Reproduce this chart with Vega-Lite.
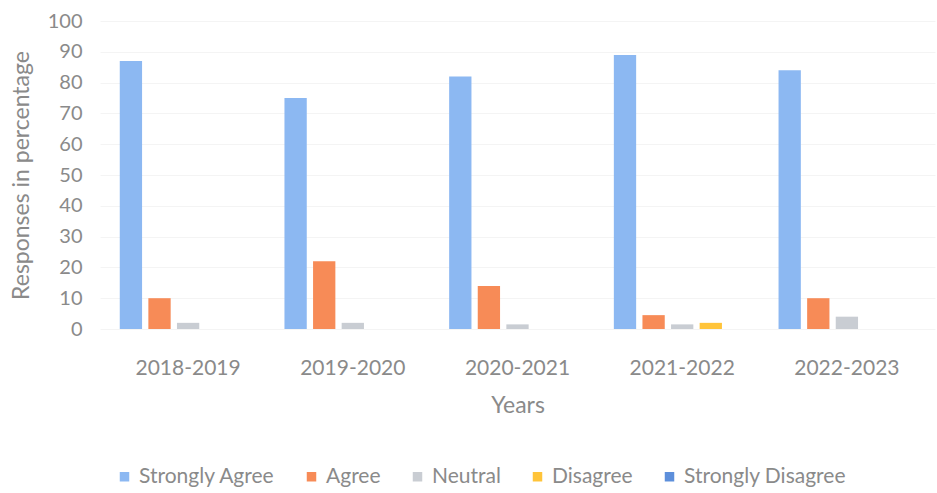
{
  "$schema": "https://vega.github.io/schema/vega-lite/v6.json",
  "autosize": {"type": "none"},
  "width": 835,
  "height": 308,
  "padding": {"left": 100, "top": 21, "right": 2, "bottom": 164},
  "background": "#ffffff",
  "config": {
    "font": "Lato",
    "view": {"stroke": null},
    "axis": {"labelColor": "#8a8a8a", "titleColor": "#8a8a8a", "titleFontWeight": "normal", "domain": false, "ticks": false, "gridColor": "#f4f4f4"},
    "legend": {"labelColor": "#8a8a8a"}
  },
  "data": {
    "values": [
      {"year": "2018-2019", "response": "Strongly Agree", "value": 87},
      {"year": "2018-2019", "response": "Agree", "value": 10},
      {"year": "2018-2019", "response": "Neutral", "value": 2},
      {"year": "2018-2019", "response": "Disagree", "value": 0},
      {"year": "2018-2019", "response": "Strongly Disagree", "value": 0},
      {"year": "2019-2020", "response": "Strongly Agree", "value": 75},
      {"year": "2019-2020", "response": "Agree", "value": 22},
      {"year": "2019-2020", "response": "Neutral", "value": 2},
      {"year": "2019-2020", "response": "Disagree", "value": 0},
      {"year": "2019-2020", "response": "Strongly Disagree", "value": 0},
      {"year": "2020-2021", "response": "Strongly Agree", "value": 82},
      {"year": "2020-2021", "response": "Agree", "value": 14},
      {"year": "2020-2021", "response": "Neutral", "value": 1.5},
      {"year": "2020-2021", "response": "Disagree", "value": 0},
      {"year": "2020-2021", "response": "Strongly Disagree", "value": 0},
      {"year": "2021-2022", "response": "Strongly Agree", "value": 89},
      {"year": "2021-2022", "response": "Agree", "value": 4.5},
      {"year": "2021-2022", "response": "Neutral", "value": 1.5},
      {"year": "2021-2022", "response": "Disagree", "value": 2},
      {"year": "2021-2022", "response": "Strongly Disagree", "value": 0},
      {"year": "2022-2023", "response": "Strongly Agree", "value": 84},
      {"year": "2022-2023", "response": "Agree", "value": 10},
      {"year": "2022-2023", "response": "Neutral", "value": 4},
      {"year": "2022-2023", "response": "Disagree", "value": 0},
      {"year": "2022-2023", "response": "Strongly Disagree", "value": 0}
    ]
  },
  "mark": {"type": "bar"},
  "encoding": {
    "x": {
      "field": "year", "type": "nominal", "sort": null,
      "scale": {"paddingInner": 0.17, "paddingOuter": 0.12},
      "axis": {"title": "Years", "labelAngle": 0, "labelFontSize": 21, "labelPadding": 28, "titleFontSize": 23, "titlePadding": 16, "grid": false}
    },
    "xOffset": {
      "field": "response", "type": "nominal",
      "sort": ["Strongly Agree", "Agree", "Neutral", "Disagree", "Strongly Disagree"],
      "scale": {"paddingInner": 0.22}
    },
    "y": {
      "field": "value", "type": "quantitative",
      "scale": {"domain": [0, 100]},
      "axis": {"title": "Responses in percentage", "values": [0,10,20,30,40,50,60,70,80,90,100], "labelFontSize": 20, "labelPadding": 18, "titleFontSize": 23, "titlePadding": 14}
    },
    "color": {
      "field": "response", "type": "nominal",
      "sort": ["Strongly Agree", "Agree", "Neutral", "Disagree", "Strongly Disagree"],
      "scale": {
        "domain": ["Strongly Agree", "Agree", "Neutral", "Disagree", "Strongly Disagree"],
        "range": ["#8cb8f2", "#f78b57", "#c9cdd3", "#ffc43a", "#5d8fdb"]
      },
      "legend": {
        "title": null, "orient": "none", "direction": "horizontal",
        "legendX": 14, "legendY": 445,
        "symbolType": "square", "symbolSize": 90, "symbolStrokeWidth": 0,
        "labelFontSize": 21, "labelLimit": 400, "columnPadding": 26, "labelOffset": 4
      }
    }
  }
}
